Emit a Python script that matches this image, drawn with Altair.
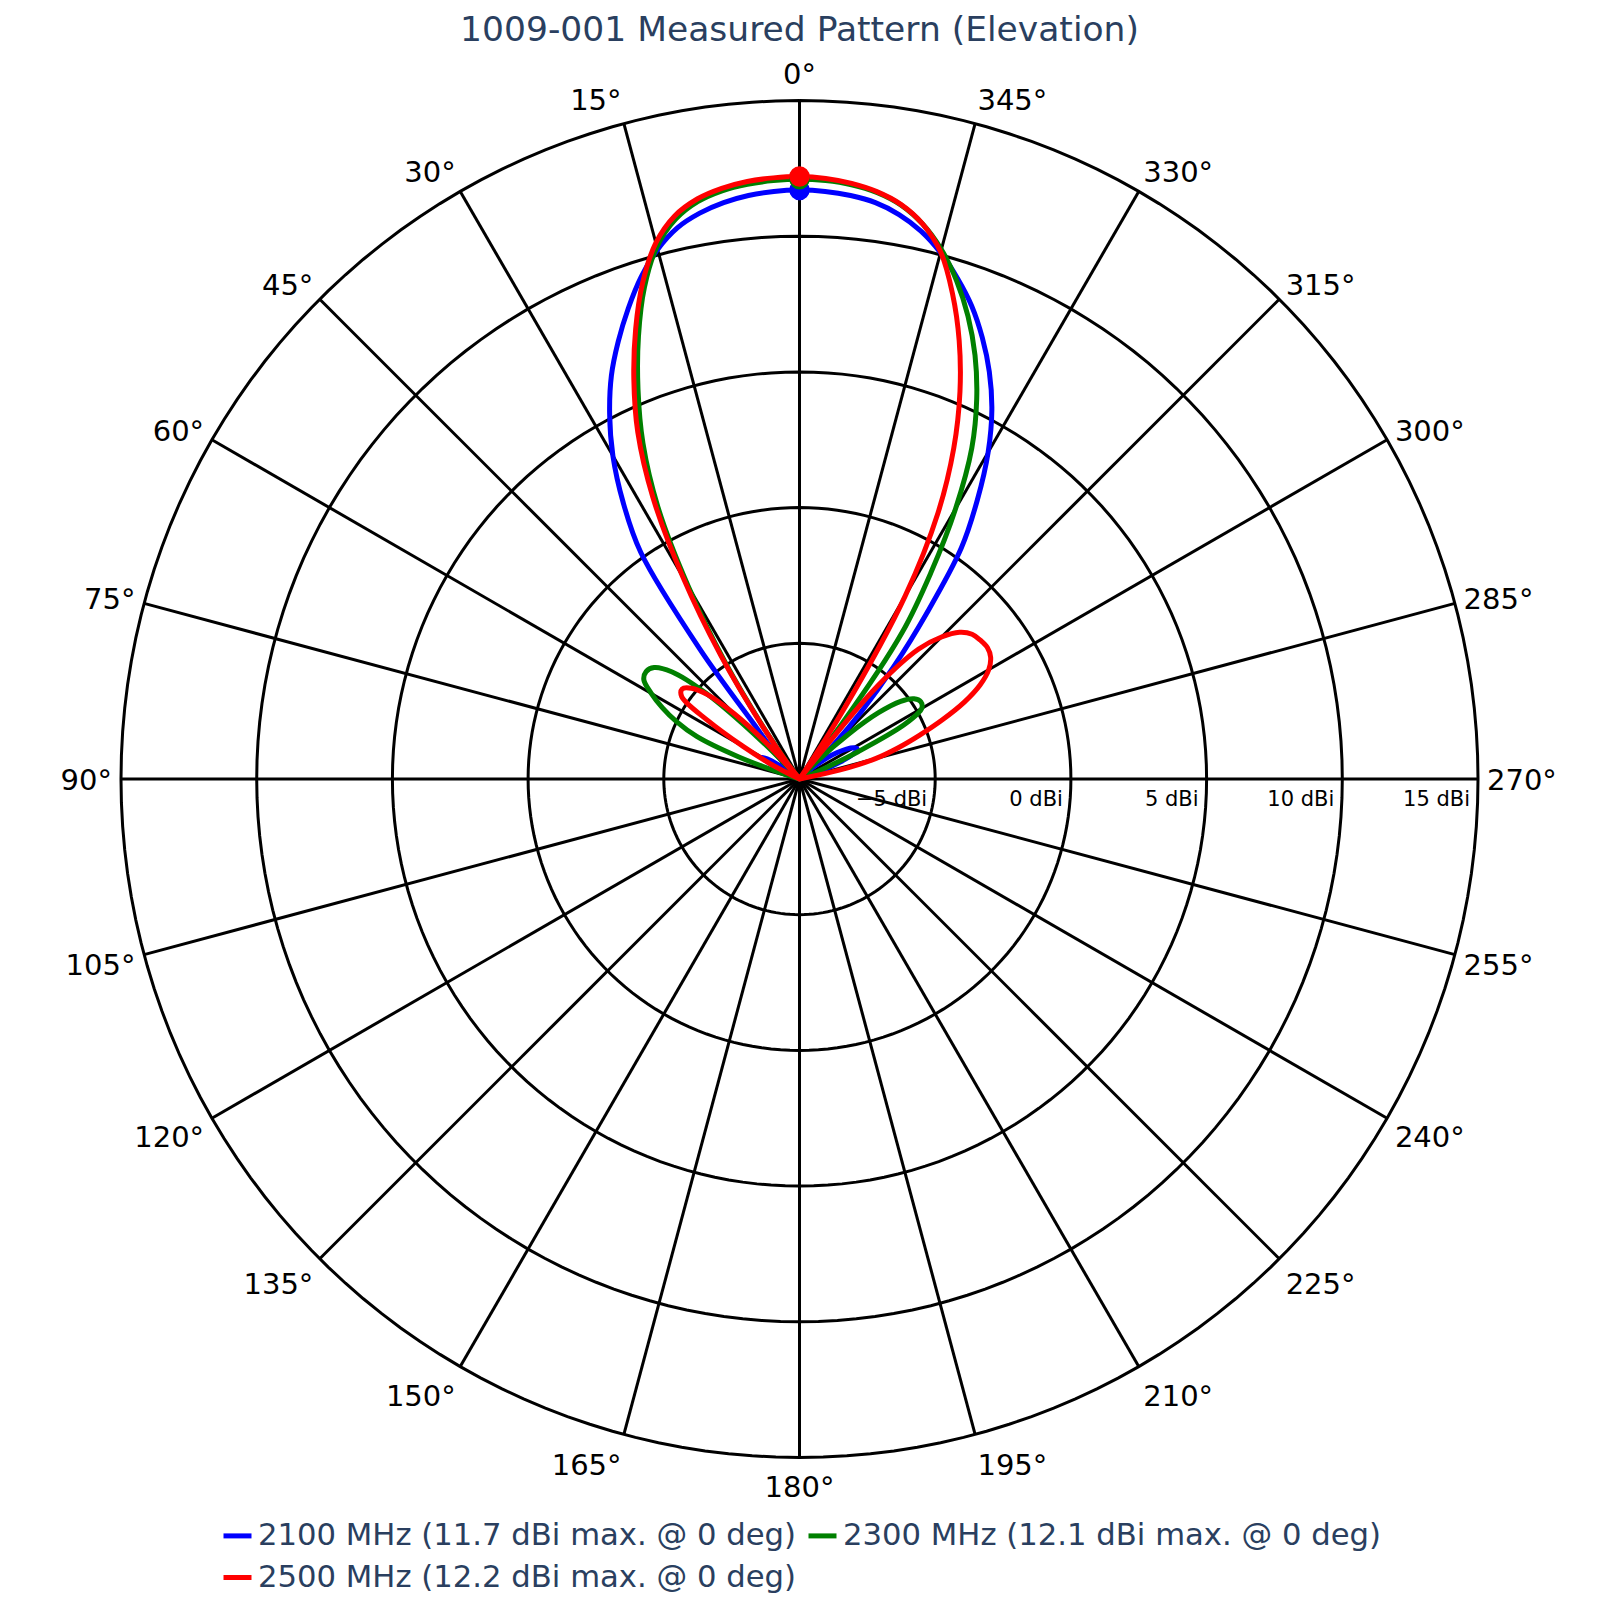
import altair as alt
import pandas as pd

TITLE = "1009-001 Measured Pattern (Elevation)"
SERIES = [
    "2100 MHz (11.7 dBi max. @ 0 deg)",
    "2300 MHz (12.1 dBi max. @ 0 deg)",
    "2500 MHz (12.2 dBi max. @ 0 deg)",
]
COLORS = ["#0000ff", "#008000", "#ff0000"]
PEAK_GAIN = [11.7, 12.1, 12.2]
PEAK_ANGLE = [0, 0, 0]

# elevation angle in degrees (positive = towards the 90° label side)
ANGLES = [-90, -87.5, -85, -82.5, -80, -77.5, -75, -72.5, -70, -67.5, -65, -62.5,
          -60, -57.5, -55, -52.5, -50, -47.5, -45, -42.5, -40, -37.5, -35, -32.5,
          -30, -27.5, -25, -22.5, -20, -17.5, -15, -12.5, -10, -7.5, -5, -2.5,
          0, 2.5, 5, 7.5, 10, 12.5, 15, 17.5, 20, 22.5, 25, 27.5, 30, 32.5, 35,
          37.5, 40, 42.5, 45, 47.5, 50, 52.5, 55, 57.5, 60, 62.5, 65, 67.5, 70,
          72.5, 75, 77.5, 80, 82.5, 85, 87.5, 90]

GAIN_2100 = [-20, -20, -20, -20, -20, -20, -20, -10.5,
             -9.2, -8.4, -7.8, -7.6, -7.7, -7.95, -8.3, -8.7, -9.3, -9.6, -8.3, -6.6,
             -4.6, -2.3, 0.4, 2.2, 3.9, 5.35, 6.55, 7.6, 8.55, 9.35, 10.08, 10.68, 11.12,
             11.42, 11.58, 11.67,
             11.7,
             11.67, 11.58, 11.42, 11.17, 10.8, 10.2, 9.4, 8.45, 7.45, 6.4, 5.15, 3.75,
             2.1, 0.2, -4.0, -7.6, -8.5, -9.3, -10.5, -11, -10.5, -9.4, -8.7, -8.4,
             -8.8, -9.6, -10.5, -20, -20, -20, -20, -20, -20, -20, -20, -20]

GAIN_2300 = [-20, -20, -20, -20, -20, -20, -20, -20,
             -10.5, -9.3, -7.6, -5.6, -4.8, -4.7, -4.85, -5.3, -6.2, -7.6, -9.0, -10.5,
             -11, -7.4, -3.4, -1.0, 1.5, 3.75, 5.45, 6.9, 8.15, 9.25, 10.2, 10.95, 11.48,
             11.8, 11.98, 12.07,
             12.1,
             12.07, 12.0, 11.86, 11.6, 11.12, 10.3, 9.0, 7.35, 5.55, 3.65, 1.3, -1.8,
             -4.9, -7.8, -9.5, -11, -10.5, -8.0, -5.3, -3.85, -3.25, -3.1, -3.2, -3.7,
             -4.3, -5.0, -5.9, -7.6, -9.5, -11, -20, -20, -20, -20, -20, -20]

GAIN_2500 = [-20, -20, -20, -20,
             -10.5, -8.5, -7.1, -6.2, -5.3, -4.3, -3.3, -2.5, -1.95, -1.65, -1.55, -1.6,
             -1.7, -2.0, -2.6, -3.5, -5.5, -10.5, -10.2, -7.0, -2.2, 1.05, 3.45, 5.45, 7.2,
             8.75, 10.1, 10.95, 11.5, 11.83, 12.03, 12.15,
             12.2,
             12.17, 12.1, 11.95, 11.7, 11.25, 10.45, 9.2, 7.65, 5.95, 4.1, 1.7, -1.4,
             -4.6, -7.6, -9.3, -10.5, -8.3, -6.6, -5.4, -4.8, -4.55, -4.7, -6.0, -7.6,
             -8.8, -10.5, -20, -20, -20, -20, -20, -20, -20, -20, -20, -20]

RADIAL_TICKS = [-5, 0, 5, 10, 15]
RADIAL_LABELS = ["\u22125 dBi", "0 dBi", "5 dBi", "10 dBi", "15 dBi"]
ANGLE_TICKS = [0, 15, 30, 45, 60, 75, 90, 105, 120, 135, 150, 165, 180,
               195, 210, 225, 240, 255, 270, 285, 300, 315, 330, 345]
R_MIN, R_MAX = -10, 15

assert len(ANGLES) == len(GAIN_2100) == len(GAIN_2300) == len(GAIN_2500)

FONT = "DejaVu Sans"
SPAN = R_MAX - R_MIN
PLOT = 1357
PXU = PLOT / 2 / SPAN
GRID_W = 3
LINE_W = 5

xs = alt.Scale(domain=[-SPAN, SPAN], nice=False, zero=False)
ys = alt.Scale(domain=[-SPAN, SPAN], nice=False, zero=False)


def XY(xf, yf):
    return dict(x=alt.X(f"{xf}:Q", scale=xs, axis=None),
                y=alt.Y(f"{yf}:Q", scale=ys, axis=None))


def to_xy(chart, gain="gain", angle="angle"):
    return chart.transform_calculate(
        u=f"max(datum.{gain}, {R_MIN}) - ({R_MIN})"
    ).transform_calculate(
        px=f"-datum.u * sin(datum.{angle} * PI / 180)",
        py=f"datum.u * cos(datum.{angle} * PI / 180)",
    )


# ---- data tables
rows = []
for name, gains in zip(SERIES, [GAIN_2100, GAIN_2300, GAIN_2500]):
    for a, g in zip(ANGLES, gains):
        rows.append({"series": name, "angle": a, "gain": g})
curves = pd.DataFrame(rows)
peaks = pd.DataFrame({"series": SERIES, "angle": PEAK_ANGLE, "gain": PEAK_GAIN})

circ = pd.DataFrame([{"level": l, "t": t} for l in RADIAL_TICKS for t in range(0, 361, 2)])
spk = pd.DataFrame({"a": ANGLE_TICKS})
lab = pd.DataFrame({"a": ANGLE_TICKS, "text": [f"{a}\u00b0" for a in ANGLE_TICKS]})
rl = pd.DataFrame({"v": RADIAL_TICKS, "text": RADIAL_LABELS})

# ---- grid
circles = to_xy(alt.Chart(circ), gain="level", angle="t").mark_line(
    color="black", strokeWidth=GRID_W
).encode(**XY("px", "py"), detail="level:N", order="t:Q")

spokes = alt.Chart(spk).transform_calculate(
    x0="0", y0="0",
    x1=f"-{SPAN} * sin(datum.a * PI / 180)",
    y1=f"{SPAN} * cos(datum.a * PI / 180)",
).mark_rule(color="black", strokeWidth=GRID_W).encode(
    **XY("x0", "y0"), x2="x1:Q", y2="y1:Q")

# ---- legend & curves
legend = alt.Legend(
    title=None, orient="none", legendX=100, legendY=1418.5,
    direction="horizontal", columns=2, symbolType="stroke", symbolSize=784,
    symbolStrokeWidth=LINE_W, labelFont=FONT, labelFontSize=30.7,
    labelColor="#2a3f5f", labelLimit=1000, labelOffset=4,
    columnPadding=1, rowPadding=10, padding=0,
)
color = alt.Color("series:N", scale=alt.Scale(domain=SERIES, range=COLORS), legend=legend)

line_layers = []
marker_layers = []
for name, col in zip(SERIES, COLORS):
    line_layers.append(
        to_xy(alt.Chart(curves).transform_filter(alt.datum.series == name)).mark_line(
            strokeWidth=LINE_W, strokeJoin="round", strokeCap="round",
            interpolate="catmull-rom"
        ).encode(**XY("px", "py"), order="angle:Q", color=color)
    )
    marker_layers.append(
        to_xy(alt.Chart(peaks).transform_filter(alt.datum.series == name)).mark_point(
            filled=True, size=420, opacity=1, shape="circle", color=col
        ).encode(**XY("px", "py"))
    )


# ---- angular labels
def angle_labels(expr, align):
    return alt.Chart(lab).transform_filter(expr).transform_calculate(
        r="datum.a * PI / 180"
    ).transform_calculate(
        lx=f"-({SPAN} + 9 / {PXU}) * sin(datum.r)",
        ly=f"{SPAN} * cos(datum.r) - (2 - 28 * cos(datum.r) + 4.5 * abs(sin(2 * datum.r))) / {PXU}",
    ).mark_text(align=align, baseline="middle", font=FONT, fontSize=29, color="black").encode(
        **XY("lx", "ly"), text="text:N")


lab_left = angle_labels("datum.a > 0 && datum.a < 180", "right")
lab_right = angle_labels("datum.a > 180", "left")
lab_mid = angle_labels("datum.a == 0 || datum.a == 180", "center")

radial_labels = alt.Chart(rl).transform_calculate(
    lx=f"datum.v - ({R_MIN})", ly="0"
).mark_text(align="right", baseline="alphabetic", dx=-8, dy=27, font=FONT,
            fontSize=21, color="black").encode(**XY("lx", "ly"), text="text:N")

title = alt.Chart(pd.DataFrame({"t": [TITLE]})).mark_text(
    align="center", baseline="alphabetic", font=FONT, fontSize=34.5, color="#2a3f5f"
).encode(x=alt.value(PLOT / 2), y=alt.value(-59.5), text="t:N")

chart = alt.layer(
    circles, spokes, *line_layers, *marker_layers,
    lab_left, lab_right, lab_mid, radial_labels, title,
).properties(
    width=PLOT, height=PLOT,
    autosize=alt.AutoSizeParams(type="none"),
    padding={"left": 113, "top": 92.5, "right": 90, "bottom": 150},
).configure_view(stroke=None)

chart.save("out.html", embed_options={"renderer": "svg", "actions": False})
